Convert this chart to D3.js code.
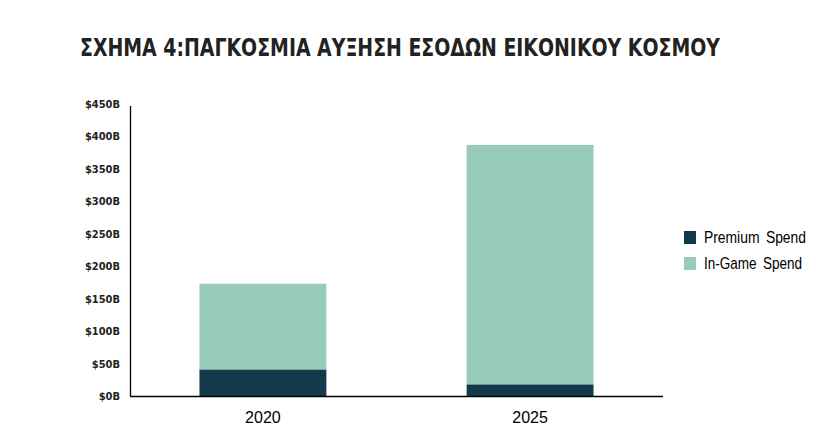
<!DOCTYPE html>
<html>
<head>
<meta charset="utf-8">
<script src="https://cdn.jsdelivr.net/npm/d3@7"></script>
<style>
  body { margin: 0; background: #fff; }
</style>
</head>
<body>
<div id="chart"></div>
<script>
// chart data
const years = ["2020", "2025"]
const premiumSpend = [41, 18]
const inGameSpend = [132, 369]
const seriesNames = ["Premium Spend", "In-Game Spend"]
const legendWidths = [102, 98]
const seriesColors = ["#133a4a", "#98cbbb"]
const yTicks = [0, 50, 100, 150, 200, 250, 300, 350, 400, 450]

const W = 835, H = 445
const margin = {top: 104, right: 172, bottom: 49, left: 130},
    width = W - margin.left - margin.right,
    height = H - margin.top - margin.bottom

const svg = d3.select("#chart")
    .append("svg")
    .attr("width", W)
    .attr("height", H)

// title
svg.append("text")
    .attr("x", 80)
    .attr("y", 56)
    .attr("textLength", 640)
    .attr("lengthAdjust", "spacingAndGlyphs")
    .style("font-family", "'DejaVu Sans Condensed', 'DejaVu Sans'")
    .style("font-weight", "bold")
    .style("font-size", "24px")
    .style("fill", "#222")
    .text("ΣΧΗΜΑ 4:ΠΑΓΚΟΣΜΙΑ  ΑΥΞΗΣΗ  ΕΣΟΔΩΝ  ΕΙΚΟΝΙΚΟΥ  ΚΟΣΜΟΥ")

const g = svg.append("g")
    .attr("transform", `translate(${margin.left},${margin.top})`)

const x = d3.scaleBand()
    .domain(years)
    .range([0, width])
    .paddingInner(0.525)
    .paddingOuter(0.26)

const y = d3.scaleLinear()
    .domain([0, 450])
    .range([height, 0])

const rows = years.map((yr, i) => ({year: yr, premium: premiumSpend[i], ingame: inGameSpend[i]}))
const stack = d3.stack().keys(["premium", "ingame"])(rows)

g.selectAll("g.series")
    .data(stack)
    .enter().append("g")
    .attr("class", "series")
    .attr("fill", (d, i) => seriesColors[i])
    .selectAll("rect")
    .data(d => d)
    .enter().append("rect")
    .attr("x", d => x(d.data.year))
    .attr("y", d => y(d[1]))
    .attr("width", x.bandwidth())
    .attr("height", d => y(d[0]) - y(d[1]))

// y axis
const yAxis = g.append("g")
    .call(d3.axisLeft(y).tickValues(yTicks).tickSize(0).tickPadding(10)
        .tickFormat(d => "$" + d + "B"))
yAxis.select(".domain").attr("stroke", "#000").attr("stroke-width", 1.3)
    .attr("d", `M0.5,${y(447)}V${height}`)
yAxis.selectAll("text")
    .style("font-family", "'DejaVu Sans Condensed', 'DejaVu Sans'")
    .style("font-weight", "bold")
    .style("font-size", "11px")
    .style("fill", "#222")

// x axis
const xAxis = g.append("g")
    .attr("transform", `translate(0,${height})`)
    .call(d3.axisBottom(x).tickSize(0).tickPadding(16))
xAxis.select(".domain").attr("stroke", "#000").attr("stroke-width", 1.5)
    .attr("d", `M0,0.5H${width}`)
xAxis.selectAll("text")
    .style("font-family", "'Liberation Sans', Arial")
    .style("font-size", "16px")
    .style("fill", "#000")

// legend
const legend = svg.append("g")
    .attr("transform", "translate(684,231)")
seriesNames.forEach((name, i) => {
    legend.append("rect")
        .attr("x", 0)
        .attr("y", i * 26)
        .attr("width", 12)
        .attr("height", 13)
        .attr("fill", seriesColors[i])
    legend.append("text")
        .attr("x", 20)
        .attr("y", i * 26 + 12)
        .attr("textLength", legendWidths[i])
        .attr("lengthAdjust", "spacingAndGlyphs")
        .style("font-family", "'Liberation Sans', Arial")
        .style("font-size", "16px")
        .style("word-spacing", "3px")
        .style("fill", "#000")
        .text(name)
})
</script>
</body>
</html>
